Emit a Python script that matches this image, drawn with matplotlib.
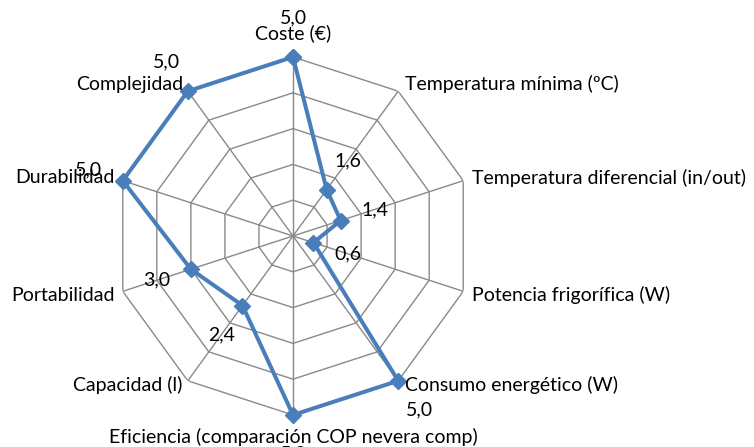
import numpy as np
import matplotlib
matplotlib.use("Agg")
import matplotlib.pyplot as plt

# categorías del radar (en el orden de Excel, sentido horario desde arriba)
categorias = [
    "Coste (€)",
    "Temperatura mínima (ºC)",
    "Temperatura diferencial (in/out)",
    "Potencia frigorífica (W)",
    "Consumo energético (W)",
    "Eficiencia (comparación COP nevera comp)",
    "Capacidad (l)",
    "Portabilidad",
    "Durabilidad",
    "Complejidad",
]
valores = [5.0, 1.6, 1.4, 0.6, 5.0, 5.0, 2.4, 3.0, 5.0, 5.0]
anillos = [1, 2, 3, 4, 5]

plt.rcParams["font.family"] = ["Lato", "DejaVu Sans"]
azul = "#4A7EBB"
gris = "#898989"
fs = 14

fig = plt.figure(figsize=(7.54, 4.47), dpi=100)
cx, cy, r = 293, 236, 179
W, H = 754, 447
ax = fig.add_axes([(cx - r) / W, (H - cy - r) / H, 2 * r / W, 2 * r / H],
                  projection="polar")
ax.set_theta_zero_location("N")
ax.set_theta_direction(-1)
ax.set_ylim(0, 5)
ax.grid(False)
ax.set_xticks([])
ax.set_yticks([])
ax.spines["polar"].set_visible(False)
ax.patch.set_alpha(0)

n = len(categorias)
ang = np.linspace(0, 2 * np.pi, n, endpoint=False)
ang_c = np.append(ang, ang[0])

# rejilla poligonal
for a in anillos:
    ax.plot(ang_c, [a] * (n + 1), color=gris, lw=1.0, zorder=1)
for t in ang:
    ax.plot([t, t], [0, anillos[-1]], color=gris, lw=1.0, zorder=1)

# serie
vals_c = valores + valores[:1]
ax.plot(ang_c, vals_c, color=azul, lw=2.9, marker="D", ms=8.5,
        markerfacecolor=azul, markeredgecolor=azul, zorder=3, clip_on=False)

# etiquetas de categoría (desplazamientos en píxeles)
for t, lab in zip(ang, categorias):
    s, c = np.sin(t), np.cos(t)
    if abs(s) < 0.01:
        dx, dy, ha = 0, (24 if c > 0 else -22), "center"
    else:
        ha = "left" if s > 0 else "right"
        if abs(c) > 0.5:
            dx = 7 if s > 0 else -5
        else:
            dx = 9 if s > 0 else -8
        if c > 0.5:
            dy = 7
        elif c > 0:
            dy = 3
        else:
            dy = -4
    ax.annotate(lab, (t, 5), xytext=(dx * 0.72, dy * 0.72),
                textcoords="offset points", ha=ha, va="center", fontsize=fs)

# etiquetas de datos
for t, v in zip(ang, valores):
    d = 36 if abs(np.sin(t)) > 0.01 else 39
    ax.annotate(f"{v:.1f}".replace(".", ","), (t, v),
                xytext=(d * np.sin(t) * 0.72, d * np.cos(t) * 0.72),
                textcoords="offset points", ha="center", va="center",
                fontsize=fs, zorder=4, annotation_clip=False)

fig.savefig("out.png", dpi=100)
